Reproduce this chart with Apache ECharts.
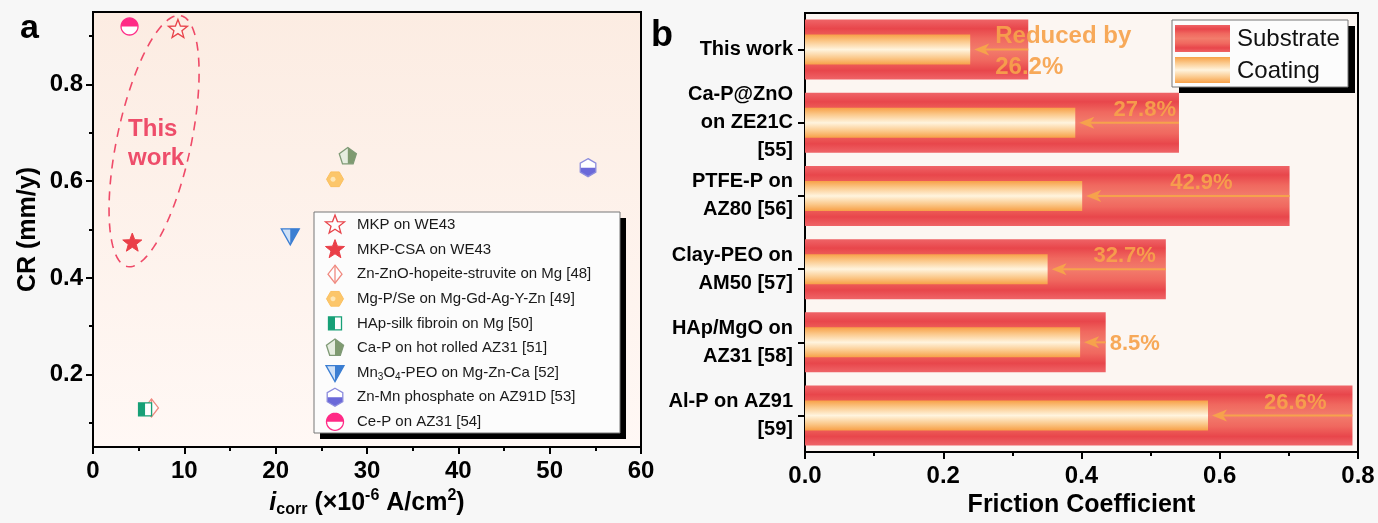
<!DOCTYPE html>
<html><head><meta charset="utf-8">
<script src="https://cdn.jsdelivr.net/npm/echarts@6/dist/echarts.min.js"></script>
<style>html,body{margin:0;padding:0;background:#f7f7f7}#c{width:1378px;height:523px}</style>
</head><body><div id="c"></div><script>
// ---------- DATA ----------
const scatterNames = ['MKP on WE43', 'MKP-CSA on WE43', 'Zn-ZnO-hopeite-struvite on Mg [48]', 'Mg-P/Se on Mg-Gd-Ag-Y-Zn [49]', 'HAp-silk fibroin on Mg [50]', 'Ca-P on hot rolled AZ31 [51]', 'Mn{s|3}O{s|4}-PEO on Mg-Zn-Ca [52]', 'Zn-Mn phosphate on AZ91D [53]', 'Ce-P on AZ31 [54]'];
const icorr = [9.3, 4.3, 6.4, 26.5, 5.7, 27.9, 21.6, 54.2, 4.0];
const cr = [0.914, 0.472, 0.131, 0.604, 0.128, 0.651, 0.487, 0.628, 0.920];
const xTicksA = [0, 10, 20, 30, 40, 50, 60];
const yTicksA = [0.2, 0.4, 0.6, 0.8];
const yMinorA = [0.1, 0.3, 0.5, 0.7, 0.9];

const categories = ['This work', 'Ca-P@ZnO\non ZE21C\n[55]', 'PTFE-P on\nAZ80 [56]', 'Clay-PEO on\nAM50 [57]', 'HAp/MgO on\nAZ31 [58]', 'Al-P on AZ91\n[59]'];
const substrate = [0.323, 0.541, 0.701, 0.522, 0.435, 0.792];
const coating = [0.239, 0.391, 0.401, 0.351, 0.398, 0.583];
const reductionLabels = ['Reduced by\n26.2%', '27.8%', '42.9%', '32.7%', '8.5%', '26.6%'];

// ---------- STYLE ----------
const FF = 'Arial, "Liberation Sans", Helvetica, sans-serif';
const ORANGE = '#f6a24c';
const labelLayout = [
  {ref: 'coat', dx: 25, align: 'left', va: 'middle', dy: 2, font: 'bold 24px ' + FF, lh: 31},
  {ref: 'sub', dx: -3, align: 'right', va: 'bottom', dy: -1, font: 'bold 22px ' + FF, lh: 24},
  {ref: 'sub', dx: -57, align: 'right', va: 'bottom', dy: -1, font: 'bold 22px ' + FF, lh: 24},
  {ref: 'sub', dx: -10, align: 'right', va: 'bottom', dy: -1, font: 'bold 22px ' + FF, lh: 24},
  {ref: 'sub', dx: 4, align: 'left', va: 'middle', dy: 2, font: 'bold 22px ' + FF, lh: 24},
  {ref: 'sub', dx: -26, align: 'right', va: 'bottom', dy: -1, font: 'bold 22px ' + FF, lh: 24}
];

function regPoly(n, r, rot) { const p = []; for (let k = 0; k < n; k++) { const a = rot + 2 * Math.PI * k / n; p.push([r * Math.sin(a), -r * Math.cos(a)]); } return p; }
function starPts(R, r) { const p = []; for (let k = 0; k < 10; k++) { const a = Math.PI * k / 5; const rr = k % 2 ? r : R; p.push([rr * Math.sin(a), -rr * Math.cos(a)]); } return p; }
function clip(pts, nx, ny) { const out = []; for (let k = 0; k < pts.length; k++) { const a = pts[k], b = pts[(k + 1) % pts.length]; const da = nx * a[0] + ny * a[1], db = nx * b[0] + ny * b[1]; if (da >= 0) out.push(a); if ((da >= 0) !== (db >= 0)) { const t = da / (da - db); out.push([a[0] + t * (b[0] - a[0]), a[1] + t * (b[1] - a[1])]); } } return out; }
function markerShapes(k, cx, cy) {
  const tr = pts => pts.map(p => [p[0] + cx, p[1] + cy]);
  const P = (pts, style) => ({type: 'polygon', shape: {points: tr(pts)}, style: style});
  const half = (base, nx, ny, fillBase, fillHalf, stroke) => [
    P(base, {fill: fillBase}), P(clip(base, nx, ny), {fill: fillHalf}), P(base, {fill: 'none', stroke: stroke, lineWidth: 1.3})];
  switch (k) {
    case 0: return [P(starPts(10, 4.2), {fill: 'rgba(255,255,255,0.3)', stroke: '#e8434a', lineWidth: 1.3})];
    case 1: return [P(starPts(10, 4.2), {fill: '#ea3f48', stroke: '#ea3f48', lineWidth: 1})];
    case 2: { const d = [[0, -9], [7, 0], [0, 9], [-7, 0]];
      return [P(d, {fill: 'rgba(255,255,255,0.6)', stroke: '#f08a80', lineWidth: 1.3}),
        {type: 'line', shape: {x1: cx, y1: cy - 9, x2: cx, y2: cy + 9}, style: {stroke: '#f08a80', lineWidth: 1.3}}]; }
    case 3: return [P(regPoly(6, 8.5, Math.PI / 6), {fill: '#fcc66a', stroke: '#fbc060', lineWidth: 1}),
      P(regPoly(12, 2.5, 0).map(p => [p[0] - 2, p[1]]), {fill: '#fee6b4'})];
    case 4: return half([[-6.5, -6.5], [6.5, -6.5], [6.5, 6.5], [-6.5, 6.5]], -1, 0, '#fff', '#17a077', '#17a077');
    case 5: return half(regPoly(5, 9, 0), 1, 0, '#e6ede0', '#7f9a70', '#7f9a76');
    case 6: return half([[-9, -7], [9, -7], [0, 9]], 1, 0, '#cfe1f7', '#3b7ed2', '#3b7ed2');
    case 7: return half(regPoly(6, 9, 0), 0, 1, '#fff', '#6b69d9', '#8c8cdd');
    case 8: return half(regPoly(32, 8.5, 0), 0, -1, '#fff', '#ff2a86', '#ff2a86');
  }
}

const subGrad = new echarts.graphic.LinearGradient(0, 0, 0, 1, [
  {offset: 0, color: '#ef6467'}, {offset: 0.15, color: '#e8464b'}, {offset: 0.32, color: '#f0685f'},
  {offset: 0.5, color: '#f27c6c'}, {offset: 0.68, color: '#f0685f'}, {offset: 0.85, color: '#e8464b'}, {offset: 1, color: '#ef6467'}]);
const coatGrad = new echarts.graphic.LinearGradient(0, 0, 0, 1, [
  {offset: 0, color: '#f7a047'}, {offset: 0.22, color: '#fbc88a'}, {offset: 0.5, color: '#fff4de'},
  {offset: 0.78, color: '#fbc88a'}, {offset: 1, color: '#f7a047'}]);

const axisStyle = {color: '#000', width: 2};
const tickLbl = {fontSize: 24, fontWeight: 'bold', color: '#000', fontFamily: FF};

const chart = echarts.init(document.getElementById('c'), null, {renderer: 'canvas'});
const option = {
  animation: false,
  backgroundColor: '#f7f7f7',
  grid: [
    {left: 93, top: 12, width: 548, height: 441, show: true, borderColor: '#000', borderWidth: 2,
      backgroundColor: new echarts.graphic.LinearGradient(0, 0, 0, 1, [{offset: 0, color: '#fcece2'}, {offset: 1, color: '#fff8f5'}])},
    {left: 805, top: 13, width: 553, height: 447, show: true, borderColor: '#000', borderWidth: 2, backgroundColor: '#fcf6f2'}
  ],
  xAxis: [
    {gridIndex: 0, type: 'value', min: xTicksA[0], max: xTicksA[xTicksA.length - 1], interval: 10,
      axisLine: {show: true, onZero: false, lineStyle: axisStyle},
      axisTick: {show: true, length: 7, lineStyle: axisStyle},
      minorTick: {show: true, splitNumber: 2, length: 4, lineStyle: axisStyle},
      splitLine: {show: false}, minorSplitLine: {show: false},
      axisLabel: Object.assign({margin: 12}, tickLbl),
      name: '{i|i}{sub|corr}{n| (×10}{sup|-6}{n| A/cm}{sup|2}{n|)}', nameLocation: 'middle', nameGap: 38,
      nameTextStyle: {color: '#000', rich: {
        i: {fontStyle: 'italic', fontWeight: 'bold', fontSize: 25, fontFamily: FF, color: '#000', lineHeight: 30},
        n: {fontWeight: 'bold', fontSize: 25, fontFamily: FF, color: '#000', lineHeight: 30},
        sub: {fontWeight: 'bold', fontSize: 16, fontFamily: FF, color: '#000', verticalAlign: 'bottom', lineHeight: 14},
        sup: {fontWeight: 'bold', fontSize: 16, fontFamily: FF, color: '#000', verticalAlign: 'top', lineHeight: 14}}}},
    {gridIndex: 1, type: 'value', min: 0, max: 0.8, interval: 0.2,
      axisLine: {show: true, onZero: false, lineStyle: axisStyle},
      axisTick: {show: true, length: 7, lineStyle: axisStyle},
      minorTick: {show: true, splitNumber: 2, length: 4, lineStyle: axisStyle},
      splitLine: {show: false}, minorSplitLine: {show: false},
      axisLabel: Object.assign({margin: 12, formatter: v => v.toFixed(1)}, tickLbl),
      name: 'Friction Coefficient', nameLocation: 'middle', nameGap: 40,
      nameTextStyle: {fontSize: 25, fontWeight: 'bold', color: '#000', fontFamily: FF}}
  ],
  yAxis: [
    {gridIndex: 0, type: 'value', position: 'left', min: 0.05, max: 0.95,
      axisLine: {show: true, onZero: false, lineStyle: axisStyle},
      axisTick: {show: true, length: 7, lineStyle: axisStyle, customValues: yTicksA},
      axisLabel: Object.assign({margin: 10, customValues: yTicksA, formatter: v => v.toFixed(1)}, tickLbl),
      splitLine: {show: false},
      name: 'CR (mm/y)', nameLocation: 'middle', nameGap: 52, nameRotate: 90,
      nameTextStyle: {fontSize: 25, fontWeight: 'bold', color: '#000', fontFamily: FF}},
    {gridIndex: 0, type: 'value', position: 'left', min: 0.05, max: 0.95,
      axisLine: {show: false}, axisLabel: {show: false}, splitLine: {show: false},
      axisTick: {show: true, length: 4, lineStyle: axisStyle, customValues: yMinorA}},
    {gridIndex: 1, type: 'category', position: 'left', data: categories, inverse: true,
      axisLine: {show: true, lineStyle: axisStyle},
      axisTick: {show: true, alignWithLabel: true, length: 7, lineStyle: axisStyle},
      axisLabel: {fontSize: 20, fontWeight: 'bold', color: '#000', fontFamily: FF, lineHeight: 28, margin: 12, align: 'right'}},
    {gridIndex: 1, type: 'category', position: 'left', data: categories, inverse: true, show: false}
  ],
  series: [
    {type: 'custom', name: 'scatter', xAxisIndex: 0, yAxisIndex: 0, clip: true,
      data: icorr.map((x, i) => [x, cr[i]]), encode: {x: 0, y: 1}, z: 5,
      renderItem: (params, api) => {
        const p = api.coord([api.value(0), api.value(1)]);
        return {type: 'group', children: markerShapes(params.dataIndex, p[0], p[1])};
      }},
    {type: 'bar', name: 'Substrate', xAxisIndex: 1, yAxisIndex: 2, data: substrate, barWidth: 60,
      itemStyle: {color: subGrad}, z: 2},
    {type: 'bar', name: 'Coating', xAxisIndex: 1, yAxisIndex: 3, data: coating, barWidth: 30,
      itemStyle: {color: coatGrad}, z: 3},
    {type: 'custom', name: 'arrows', xAxisIndex: 1, yAxisIndex: 2, z: 6,
      data: categories.map((c, i) => [i, substrate[i], coating[i]]), encode: {x: [1, 2], y: 0},
      renderItem: (params, api) => {
        const i = params.dataIndex;
        const ps = api.coord([api.value(1), api.value(0)]);
        const pc = api.coord([api.value(2), api.value(0)]);
        const y = ps[1];
        const tip = pc[0] + 4;
        const L = labelLayout[i];
        const ax = (L.ref === 'sub' ? ps[0] : pc[0]) + L.dx;
        return {type: 'group', children: [
          {type: 'line', shape: {x1: ps[0], y1: y, x2: tip + 10, y2: y}, style: {stroke: ORANGE, lineWidth: 2}},
          {type: 'polygon', shape: {points: [[tip, y], [tip + 15, y - 6], [tip + 11, y], [tip + 15, y + 6]]}, style: {fill: ORANGE}},
          {type: 'text', style: {text: reductionLabels[i], x: ax, y: y + L.dy, fill: ORANGE, opacity: 0.92, font: L.font,
            align: L.align, textAlign: L.align, verticalAlign: L.va, textVerticalAlign: L.va, lineHeight: L.lh}}
        ]};
      }}
  ]
};
chart.setOption(option);

// ---------- ANNOTATIONS / LEGENDS ----------
const g = [];
g.push({type: 'text', left: 20, top: 12, style: {text: 'a', font: 'bold 34px ' + FF, fill: '#000'}});
g.push({type: 'text', left: 651, top: 18, style: {text: 'b', font: 'bold 36px ' + FF, fill: '#000'}});

const pTop = chart.convertToPixel({gridIndex: 0}, [icorr[0], cr[0]]);
const pBot = chart.convertToPixel({gridIndex: 0}, [icorr[1], cr[1]]);
{
  const dx = pTop[0] - pBot[0], dy = pTop[1] - pBot[1], len = Math.hypot(dx, dy);
  const ux = dx / len, uy = dy / len;
  const e1 = [pTop[0] + ux * 14, pTop[1] + uy * 14], e2 = [pBot[0] - ux * 24, pBot[1] - uy * 24];
  const c = [(e1[0] + e2[0]) / 2, (e1[1] + e2[1]) / 2];
  const a = Math.hypot(e1[0] - e2[0], e1[1] - e2[1]) / 2, b = 37;
  const vx = -uy, vy = ux;
  const pts = [];
  for (let k = 0; k < 120; k++) { const t = 2 * Math.PI * k / 120; const ca = a * Math.cos(t), sb = b * Math.sin(t);
    pts.push([c[0] + ux * ca + vx * sb, c[1] + uy * ca + vy * sb]); }
  g.push({type: 'polygon', z: 50, shape: {points: pts}, style: {fill: 'none', stroke: '#ef4a68', lineWidth: 1.6, lineDash: [9, 7]}});
  g.push({type: 'text', z: 50, style: {text: 'This\nwork', x: c[0] - 26, y: c[1] + 3, font: 'bold 24px ' + FF, fill: '#ee4d6a',
    lineHeight: 29, align: 'left', textAlign: 'left', verticalAlign: 'middle', textVerticalAlign: 'middle'}});
}

g.push({type: 'rect', z: 60, shape: {x: 320, y: 218, width: 306, height: 221}, style: {fill: '#000'}});
g.push({type: 'rect', z: 61, shape: {x: 314, y: 212, width: 306, height: 221}, style: {fill: '#fcfcfc', stroke: '#777', lineWidth: 1}});
scatterNames.forEach((nm, i) => {
  const y = 225 + i * 24.6;
  markerShapes(i, 335, y).forEach(el => { el.z = 62; g.push(el); });
  g.push({type: 'text', z: 62, style: {text: nm, x: 357, y: y, font: '15px ' + FF, fill: '#1a1a1a', lineHeight: 18,
    verticalAlign: 'middle', textVerticalAlign: 'middle',
    rich: {s: {fontSize: 10, fontFamily: FF, fill: '#1a1a1a', lineHeight: 10, padding: [10, 0, 0, 0]}}}});
});

g.push({type: 'rect', z: 60, shape: {x: 1179, y: 26, width: 176, height: 67}, style: {fill: '#000'}});
g.push({type: 'rect', z: 61, shape: {x: 1172, y: 20, width: 176, height: 67}, style: {fill: '#fcfcfc', stroke: '#777', lineWidth: 1}});
g.push({type: 'rect', z: 62, shape: {x: 1175, y: 25, width: 55, height: 27}, style: {fill: subGrad}});
g.push({type: 'rect', z: 62, shape: {x: 1175, y: 57, width: 55, height: 26}, style: {fill: coatGrad}});
g.push({type: 'text', z: 62, style: {text: 'Substrate', x: 1237, y: 39, font: '24px ' + FF, fill: '#111', verticalAlign: 'middle', textVerticalAlign: 'middle'}});
g.push({type: 'text', z: 62, style: {text: 'Coating', x: 1237, y: 71, font: '24px ' + FF, fill: '#111', verticalAlign: 'middle', textVerticalAlign: 'middle'}});

chart.setOption({graphic: g});
</script></body></html>
